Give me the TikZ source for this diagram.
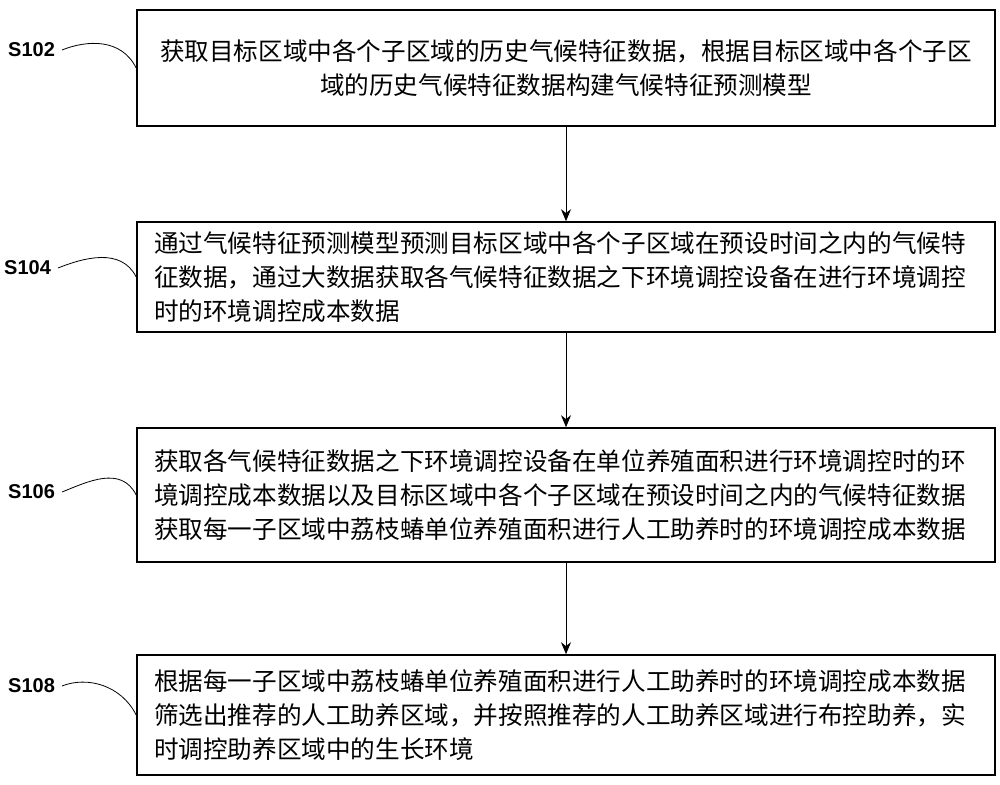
\documentclass[tikz,border=0pt]{standalone}
\usepackage{fontspec}
\setmainfont{Liberation Sans}
\newfontfamily\cjk{Noto Sans CJK SC}
\usetikzlibrary{arrows.meta,positioning}
\tikzset{
  stepbox/.style={draw, thick, minimum width=429pt, text width=412pt,
    align=left, inner sep=0pt, font=\cjk\fontsize{12.3}{17}\selectfont},
  steplabel/.style={font=\bfseries\fontsize{10}{12}\selectfont, anchor=east},
  flow/.style={-{Stealth[length=6pt,width=5pt]}},
}
\begin{document}
\begin{tikzpicture}[x=0.5pt,y=-0.5pt]
  \useasboundingbox (0,0) rectangle (1000,785);
  % steps
  \node[stepbox, minimum height=58pt, align=center] (b1) at (566,68)
    {获取目标区域中各个子区域的历史气候特征数据，根据目标区域中各个子区\\域的历史气候特征数据构建气候特征预测模型};
  \node[stepbox, minimum height=55pt] (b2) at (566,277)
    {通过气候特征预测模型预测目标区域中各个子区域在预设时间之内的气候特\\征数据，通过大数据获取各气候特征数据之下环境调控设备在进行环境调控\\时的环境调控成本数据};
  \node[stepbox, minimum height=67pt] (b3) at (566,495)
    {获取各气候特征数据之下环境调控设备在单位养殖面积进行环境调控时的环\\境调控成本数据以及目标区域中各个子区域在预设时间之内的气候特征数据\\获取每一子区域中荔枝蝽单位养殖面积进行人工助养时的环境调控成本数据};
  \node[stepbox, minimum height=60pt] (b4) at (566,715)
    {根据每一子区域中荔枝蝽单位养殖面积进行人工助养时的环境调控成本数据\\筛选出推荐的人工助养区域，并按照推荐的人工助养区域进行布控助养，实\\时调控助养区域中的生长环境};
  % arrows
  \draw[flow] (b1) -- (b2);
  \draw[flow] (b2) -- (b3);
  \draw[flow] (b3) -- (b4);
  % labels
  \node[steplabel] (s1) at (62,50) {S102};
  \node[steplabel] (s2) at (58,268) {S104};
  \node[steplabel] (s3) at (62,492) {S106};
  \node[steplabel] (s4) at (62,686) {S108};
  \foreach \s/\b in {s1/b1,s2/b2,s3/b3,s4/b4}
    \draw (\s.east) .. controls ++(25,-10) and ++(-15,-30) .. (\b.west);
\end{tikzpicture}
\end{document}
